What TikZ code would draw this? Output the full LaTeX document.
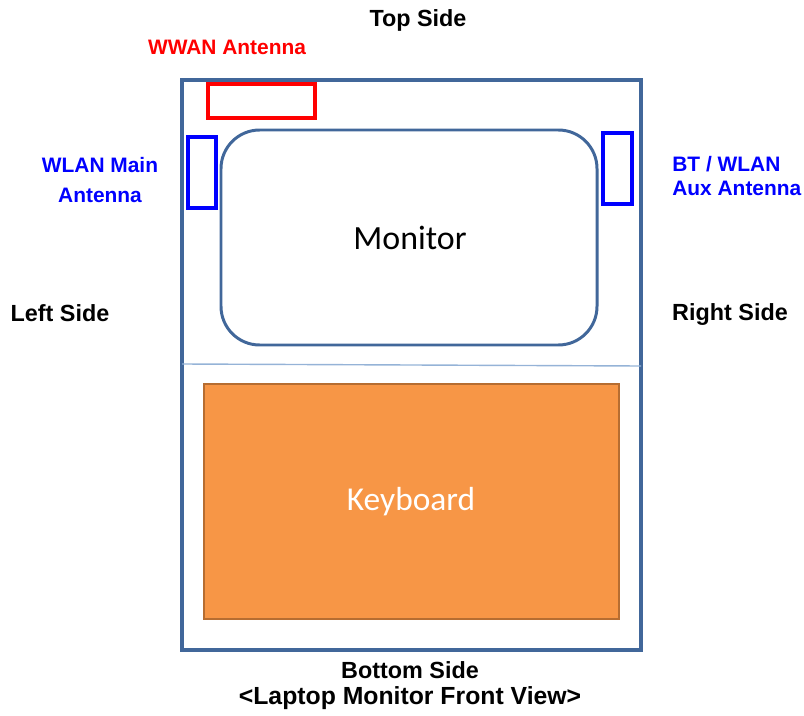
\documentclass[tikz,border=0pt]{standalone}
\usepackage{fontspec}
\setmainfont{Liberation Sans}
\newfontfamily\calibri{Carlito}
\usepackage{tikz}

\definecolor{framecol}{HTML}{41679A}
\definecolor{dividercol}{HTML}{95B3D7}
\definecolor{kbfill}{HTML}{F79646}
\definecolor{kbline}{HTML}{B66D31}
\definecolor{antred}{HTML}{FF0000}
\definecolor{antblue}{HTML}{0000FF}

\begin{document}
\begin{tikzpicture}[x=0.02cm, y=-0.02cm,
        sidelabel/.style={font=\bfseries\fontsize{13.3}{15}\selectfont, text=black, inner sep=0pt},
        antlabel/.style={font=\bfseries\fontsize{11.9}{15}\selectfont, inner sep=0pt},
        antbox/.style={line width=1.8pt}]
            \path[use as bounding box] (0, 0) rectangle (804, 716);

            % laptop lid
            \draw[framecol, line width=1.8pt] (182, 80) rectangle (641, 650);
            \draw[dividercol, line width=0.8pt] (182, 364) -- (641, 366);

            % monitor and keyboard
            \draw[framecol, line width=1.7pt, rounded corners=22pt] (221, 130) rectangle (597, 345);
            \node[font=\calibri\fontsize{19.3}{22}\selectfont] (M) at (410, 238) {Monitor};
            \draw[kbline, fill=kbfill, line width=1.2pt] (204, 384) rectangle (619, 619);
            \node[font=\calibri\fontsize{19}{22}\selectfont, text=white] (K) at (411, 502) {Keyboard};

            % antennas
            \draw[antred, antbox] (208, 84) rectangle (315, 118);
            \draw[antblue, antbox] (188, 137) rectangle (216, 208);
            \draw[antblue, antbox] (603, 133) rectangle (632, 204);

            \node[antlabel, text=antred] (WWAN) at (227, 47) {WWAN Antenna};
            \node[antlabel, text=antblue, align=center] (WLAN) at (100, 180) {WLAN Main\\[2pt]Antenna};
            \node[antlabel, text=antblue, align=left, anchor=west] (BT) at (672, 176) {BT / WLAN\\[-1pt]Aux Antenna};

            % sides
            \node[sidelabel] (T) at (418, 20) {Top Side};
            \node[sidelabel] (L) at (60, 313) {Left Side};
            \node[sidelabel] (R) at (730, 315) {Right Side};
            \node[sidelabel] (B) at (410, 670) {Bottom Side};
            \node[sidelabel, font=\bfseries\fontsize{14.1}{16}\selectfont] (V) at (410, 698) {<Laptop Monitor Front View>};

        \end{tikzpicture}
\end{document}
